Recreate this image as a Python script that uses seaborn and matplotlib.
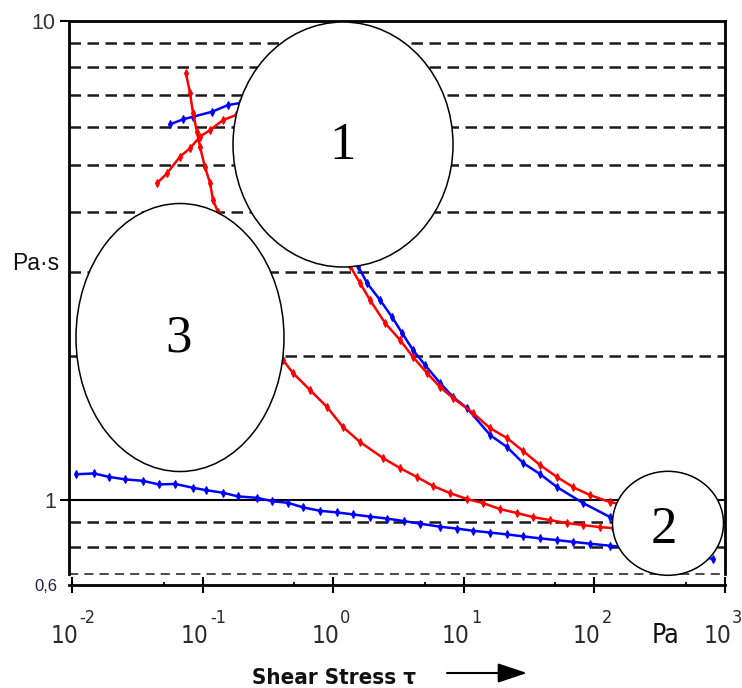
import matplotlib
matplotlib.use("Agg")
import matplotlib.pyplot as plt
import seaborn as sns
from matplotlib.patches import Ellipse
from matplotlib.transforms import offset_copy
from matplotlib.ticker import NullLocator
from matplotlib import font_manager
from matplotlib.font_manager import FontProperties

# ---- flow curves: shear stress (Pa) -> viscosity (Pa·s) ----
blue_upper_stress = [0.05607, 0.07050, 0.08412, 0.1176, 0.1560, 0.1928,
                     1.546, 1.812, 2.280, 2.818, 3.361, 4.080, 5.043, 6.571,
                     8.264, 10.58, 15.88, 21.43, 28.42, 38.37, 51.79, 81.93,
                     131.9, 171.9]
blue_upper_visc = [6.085, 6.234, 6.312, 6.465, 6.676, 6.742,
                   3.080, 2.838, 2.615, 2.410, 2.232, 2.056, 1.913, 1.755,
                   1.641, 1.556, 1.367, 1.290, 1.195, 1.133, 1.064, 0.9857,
                   0.9216, 0.900]

red_upper_stress = [0.04457, 0.05317, 0.06687, 0.07977, 0.09517, 0.1136,
                    0.1428, 0.1797,
                    1.343, 1.601, 1.911, 2.490, 3.244, 4.080, 5.224, 6.571,
                    8.264, 11.77, 15.88, 21.43, 28.42, 38.37, 51.79, 68.67,
                    92.71, 131.9, 171.9]
red_upper_visc = [4.584, 4.809, 5.210, 5.424, 5.735, 5.922, 6.212, 6.364,
                  3.080, 2.838, 2.615, 2.342, 2.158, 1.988, 1.841, 1.721,
                  1.633, 1.519, 1.413, 1.347, 1.266, 1.183, 1.117, 1.064,
                  1.024, 0.9904, 0.976]

red_lower_stress = [0.07434, 0.07977, 0.08412, 0.09028, 0.09517, 0.1039,
                    0.1136, 0.1197, 0.1308,
                    0.4118, 0.4912, 0.6632, 0.8950, 1.187, 1.601, 2.403,
                    3.244, 4.378, 5.808, 7.841, 10.58, 14.03, 18.94, 25.57,
                    33.91, 45.76, 61.78, 81.93, 110.6, 139.1]
red_lower_visc = [7.777, 7.073, 6.426, 5.867, 5.458, 4.957, 4.590, 4.229,
                  3.993,
                  1.960, 1.841, 1.697, 1.564, 1.420, 1.322, 1.224, 1.166,
                  1.117, 1.070, 1.034, 1.005, 0.9857, 0.9576, 0.9395,
                  0.9215, 0.9083, 0.8953, 0.8867, 0.8782, 0.874]

blue_lower_stress = [0.01067, 0.01466, 0.01911, 0.02534, 0.03481, 0.04617,
                     0.06124, 0.08412, 0.1058, 0.1428, 0.1861, 0.2602,
                     0.3391, 0.4497, 0.5858, 0.7908, 1.068, 1.416, 1.911,
                     2.579, 3.481, 4.617, 6.571, 8.870, 11.77, 15.88, 21.43,
                     28.42, 38.37, 51.79, 68.67, 92.71, 131.9, 267.2, 541.2,
                     812.3]
blue_lower_visc = [1.132, 1.137, 1.118, 1.105, 1.097, 1.078, 1.081, 1.061,
                   1.049, 1.036, 1.018, 1.011, 0.995, 0.987, 0.9656, 0.9499,
                   0.9426, 0.9335, 0.924, 0.915, 0.904, 0.893, 0.880, 0.872,
                   0.863, 0.8555, 0.848, 0.840, 0.832, 0.825, 0.818, 0.811,
                   0.803, 0.788, 0.775, 0.753]

# ---- axis values ----
x_exponents = [-2, -1, 0, 1, 2, 3]
x_minor = [0.05, 0.5, 5, 50, 500]
y_major = [1, 10]
y_major_labels = ["1", "10"]
y_floor = 0.665
y_floor_label = "0,6"
dashed_levels = [0.8, 0.9, 2, 3, 4, 5, 6, 7, 8, 9]
thin_dashed_levels = [0.7]
solid_levels = [1]
ellipse_labels = ["1", "2", "3"]


def pick_font(*names):
    for name in names:
        try:
            font_manager.findfont(FontProperties(family=name),
                                  fallback_to_default=False)
            return name
        except Exception:
            pass
    return "DejaVu Sans"


def is_condensed(entry):
    tag = (entry.name + " " + entry.fname + " " + str(entry.stretch)).lower()
    return "narrow" in tag or "condensed" in tag


def narrow_font(bold=False):
    """Return FontProperties for a narrow sans face when one is installed."""
    order = ["Liberation Sans Narrow", "Arial Narrow", "DejaVu Sans",
             "Roboto", "Open Sans", "Noto Sans", "Lato"]
    for fam in order:
        for f in font_manager.fontManager.ttflist:
            if f.name != fam or not is_condensed(f) or f.style != "normal":
                continue
            w = f.weight if isinstance(f.weight, int) else \
                font_manager.weight_dict.get(str(f.weight), 400)
            if (w >= 600) == bold and "light" not in f.fname.lower() \
                    and "semi" not in f.fname.lower() \
                    and "extra" not in f.fname.lower():
                return FontProperties(fname=f.fname)
    return FontProperties(family=pick_font("Liberation Sans", "DejaVu Sans"),
                          weight="bold" if bold else "normal")


sns.set_theme(style="white")
sans = pick_font("Liberation Sans", "Arial", "DejaVu Sans")
serif = pick_font("Liberation Serif", "DejaVu Serif")
plt.rcParams["font.family"] = [sans, "DejaVu Sans"]
narrow_reg = narrow_font(False)
narrow_bold = narrow_font(True)

W, H = 742, 688
fig = plt.figure(figsize=(W / 100, H / 100), dpi=100, facecolor="white")
ax = fig.add_axes([69 / W, 1 - 585 / H, 656 / W, 564 / H])
ax.set_facecolor("white")
ax.set_xscale("log")
ax.set_yscale("log")

# reference lines
for lv in dashed_levels:
    ax.axhline(lv, color="#1a1a1a", lw=1.8, ls=(0, (4.6, 2.6)), zorder=1)
for lv in thin_dashed_levels:
    ax.axhline(lv, color="#1a1a1a", lw=1.1, ls=(0, (6, 4)), zorder=1)
for lv in solid_levels:
    ax.axhline(lv, color="black", lw=1.5, zorder=1)

curves = [
    (blue_upper_stress, blue_upper_visc, "#0000ff"),
    (red_upper_stress, red_upper_visc, "#ff0000"),
    (red_lower_stress, red_lower_visc, "#ff0000"),
    (blue_lower_stress, blue_lower_visc, "#0000ff"),
]
for xs, ys, col in curves:
    sns.lineplot(x=xs, y=ys, ax=ax, color=col, lw=1.8, marker="d",
                 markersize=4, markeredgecolor=col, markeredgewidth=0.8,
                 sort=False, estimator=None, zorder=2)

ax.set_xlim(0.00944, 1000)
ax.set_ylim(y_floor, 10)

# callout ellipses with their numbers
ellipses = [
    ((0.4177, 0.7810), 0.3354, 0.4344, (0.4177, 0.7784)),
    ((0.9131, 0.1094), 0.1692, 0.1844, (0.9070, 0.0975)),
    ((0.1692, 0.4388), 0.3171, 0.4752, (0.1662, 0.4379)),
]
for (c, w, h, tpos), lab in zip(ellipses, ellipse_labels):
    ax.add_patch(Ellipse(c, w, h, transform=ax.transAxes, facecolor="white",
                         edgecolor="black", lw=1.1, zorder=4))
    ax.text(tpos[0], tpos[1], lab, transform=ax.transAxes, ha="center",
            va="center", fontsize=38, family=serif, color="black", zorder=5)

# spines
for side in ["left", "right", "top", "bottom"]:
    ax.spines[side].set_visible(True)
    ax.spines[side].set_color("black")
    ax.spines[side].set_linewidth(2.0)
ax.spines["left"].set_bounds(0.7, 10)
ax.spines["right"].set_bounds(0.7, 10)

# y ticks
ax.set_yticks(y_major)
ax.set_yticklabels(y_major_labels)
ax.yaxis.set_minor_locator(NullLocator())
ax.tick_params(axis="y", which="major", direction="out", length=6.5,
               width=1.5, labelsize=15.5, pad=3, color="black",
               labelcolor="#333333", left=True, right=False)
fig.text(57 / W, 1 - 591 / H, y_floor_label, ha="right", va="baseline",
         fontsize=12, color="#202040")

# x ticks, labelled by hand as 10 with a raised exponent
ax.set_xticks([10.0 ** e for e in x_exponents])
ax.set_xticklabels([""] * len(x_exponents))
ax.set_xticks(x_minor, minor=True)
ax.set_xticklabels([""] * len(x_minor), minor=True)
ax.tick_params(axis="x", which="major", direction="inout", length=12,
               width=1.5, color="black", bottom=True)
ax.tick_params(axis="x", which="minor", direction="in", length=2.5,
               width=1.3, color="black", bottom=True)
xtrans = ax.get_xaxis_transform()
big = narrow_reg.copy()
big.set_size(17.5)
small = narrow_reg.copy()
small.set_size(13)
for e in x_exponents:
    xv = 10.0 ** e
    ax.text(xv, 0, "10", ha="right", va="baseline", fontproperties=big,
            color="#2a2a2a", clip_on=False,
            transform=offset_copy(xtrans, fig=fig, x=6, y=-58, units="dots"))
    ax.text(xv, 0, str(e), ha="left", va="baseline", fontproperties=small,
            color="#2a2a2a", clip_on=False,
            transform=offset_copy(xtrans, fig=fig, x=7, y=-38, units="dots"))

# units and axis titles
pa_font = narrow_reg.copy()
pa_font.set_size(19)
fig.text(666 / W, 1 - 643 / H, "Pa", ha="center", va="baseline",
         fontproperties=pa_font, color="#111111")
fig.text(35.5 / W, 1 - 270 / H, "Pa·s", ha="center", va="baseline",
         fontsize=16.5, color="#111111")
title_font = narrow_bold.copy()
title_font.set_size(16)
fig.text(252 / W, 1 - 684 / H, "Shear Stress τ", ha="left", va="baseline",
         fontproperties=title_font, color="#111111")
ax.annotate("", xy=(527 / W, 1 - 673 / H), xytext=(447 / W, 1 - 673 / H),
            xycoords="figure fraction", textcoords="figure fraction",
            arrowprops=dict(arrowstyle="-|>,head_length=1.8,head_width=0.6",
                            lw=1.5, color="black", mutation_scale=10,
                            shrinkA=0, shrinkB=0))

ax.set_xlabel("")
ax.set_ylabel("")
fig.savefig("out.png", dpi=100, facecolor="white")
